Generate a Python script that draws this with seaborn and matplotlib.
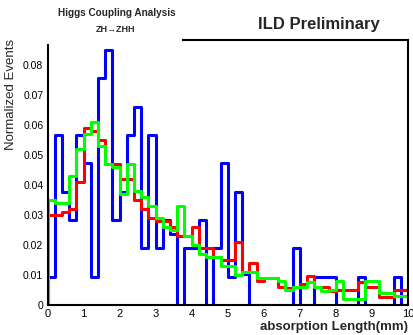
import numpy as np
import pandas as pd
import matplotlib
matplotlib.use("Agg")
import matplotlib.pyplot as plt
import seaborn as sns
from matplotlib.patches import Rectangle
from matplotlib.ticker import MultipleLocator, FuncFormatter

# ---- data: normalized bin contents, 50 bins of width 0.2 from 0 to 10 ----
bin_low = 0.0
bin_high = 10.0
bin_width = 0.2

blue_values = [
    0.0094, 0.0567, 0.0378, 0.0283, 0.0567, 0.0472, 0.0094, 0.0755, 0.0849, 0.0283,
    0.0378, 0.0566, 0.0660, 0.0189, 0.0566, 0.0189, 0.0283, 0.0236, 0.0, 0.0189,
    0.0189, 0.0283, 0.0, 0.0189, 0.0472, 0.0094, 0.0377, 0.0104, 0.0, 0.0,
    0.0, 0.0, 0.0, 0.0, 0.0189, 0.0, 0.0, 0.0094, 0.0094, 0.0094,
    0.0, 0.0, 0.0, 0.0094, 0.0, 0.0, 0.0, 0.0, 0.0094, 0.0,
]
red_values = [
    0.030, 0.030, 0.031, 0.032, 0.041, 0.059, 0.058, 0.055, 0.047, 0.047,
    0.042, 0.042, 0.035, 0.032, 0.029, 0.028, 0.028, 0.026, 0.023, 0.023,
    0.026, 0.019, 0.019, 0.016, 0.015, 0.015, 0.021, 0.011, 0.014, 0.008,
    0.009, 0.009, 0.006, 0.0055, 0.006, 0.007, 0.0097, 0.006, 0.006, 0.0045,
    0.005, 0.005, 0.005, 0.0077, 0.006, 0.006, 0.0027, 0.0027, 0.005, 0.005,
]
green_values = [
    0.035, 0.034, 0.034, 0.043, 0.052, 0.057, 0.061, 0.053, 0.047, 0.046,
    0.037, 0.047, 0.038, 0.036, 0.033, 0.029, 0.026, 0.025, 0.033, 0.023,
    0.020, 0.017, 0.016, 0.016, 0.013, 0.013, 0.010, 0.011, 0.011, 0.009,
    0.009, 0.009, 0.008, 0.005, 0.006, 0.006, 0.0077, 0.006, 0.0047, 0.005,
    0.008, 0.002, 0.002, 0.002, 0.008, 0.008, 0.004, 0.004, 0.003, 0.003,
]
series_names = ["blue", "red", "green"]
series_colors = {"blue": "#0000ff", "red": "#ff0000", "green": "#00ff00"}

x_ticks = [0, 1, 2, 3, 4, 5, 6, 7, 8, 9, 10]
y_ticks = [0, 0.01, 0.02, 0.03, 0.04, 0.05, 0.06, 0.07, 0.08]
x_title = "absorption Length(mm)"
y_title = "Normalized Events"
title_line1 = "Higgs Coupling Analysis"
title_line2 = "ZH\u2192ZHH"
label_ild = "ILD Preliminary"

# ---- build table (one empty pad bin each side so the outline closes to zero) ----
n_bins = len(blue_values)
centers = bin_low + bin_width * (np.arange(-1, n_bins + 1) + 0.5)
frames = []
for name, vals in zip(series_names, [blue_values, red_values, green_values]):
    w = np.concatenate([[0.0], np.asarray(vals, float), [0.0]])
    frames.append(pd.DataFrame({"x": centers, "w": w, "series": name}))
df = pd.concat(frames, ignore_index=True)

sns.set_style("white")
plt.rcParams["font.family"] = ["Liberation Sans", "DejaVu Sans"]

W, H = 413, 335
fig = plt.figure(figsize=(W / 100, H / 100), dpi=100)
x0, x1, y0, y1 = 47.5, 408.0, 305.0, 40.0
ax = fig.add_axes([x0 / W, 1 - y0 / H, (x1 - x0) / W, (y0 - y1) / H])

for name in series_names:
    sub = df[df["series"] == name]
    sns.histplot(data=sub, x="x", weights="w", bins=n_bins + 2,
                 binrange=(bin_low - bin_width, bin_high + bin_width),
                 element="step", fill=False, color=series_colors[name],
                 linewidth=2.2, ax=ax)

ax.set_xlim(bin_low, bin_high)
ax.set_ylim(0, 0.0883)
ax.set_xlabel("")
ax.set_ylabel("")

ax.set_xticks(x_ticks)
ax.set_yticks(y_ticks)
ax.xaxis.set_minor_locator(MultipleLocator(0.2))
ax.yaxis.set_minor_locator(MultipleLocator(0.001))
ax.xaxis.set_major_formatter(FuncFormatter(lambda v, p: f"{v:g}"))
ax.yaxis.set_major_formatter(FuncFormatter(lambda v, p: "0" if abs(v) < 1e-9 else f"{v:.2f}"))
ax.tick_params(axis="both", which="both", direction="in", top=False, right=False,
               colors="black", labelsize=8, width=0.8)
ax.tick_params(axis="y", which="major", length=7, pad=3, labelsize=7.5)
ax.tick_params(axis="y", which="minor", length=3.5)
ax.tick_params(axis="x", which="major", length=4, pad=3)
ax.tick_params(axis="x", which="minor", length=2)
for s in ax.spines.values():
    s.set_color("black")
    s.set_linewidth(1.5)

# title pad covering the left part of the top frame line
fig.patches.append(Rectangle((x0 / W - 0.002, 1 - 44 / H), (183 - x0) / W, 8 / H,
                             transform=fig.transFigure, facecolor="white",
                             edgecolor="none", zorder=5))

fig.text(117 / W, 1 - 13 / H, title_line1, ha="center", va="center",
         fontsize=7.2, fontweight="bold", zorder=6)
fig.text(116 / W, 1 - 30 / H, title_line2, ha="center", va="center",
         fontsize=6.5, fontweight="bold", zorder=6)
fig.text(318.5 / W, 1 - 25 / H, label_ild, ha="center", va="center",
         fontsize=12, fontweight="bold")
fig.text(408 / W, 1 - 327 / H, x_title, ha="right", va="center",
         fontsize=9.5, fontweight="bold")
fig.text(11 / W, 1 - 39 / H, y_title, ha="center", va="top", rotation=90,
         fontsize=9.5)

fig.savefig("out.png", dpi=100)
